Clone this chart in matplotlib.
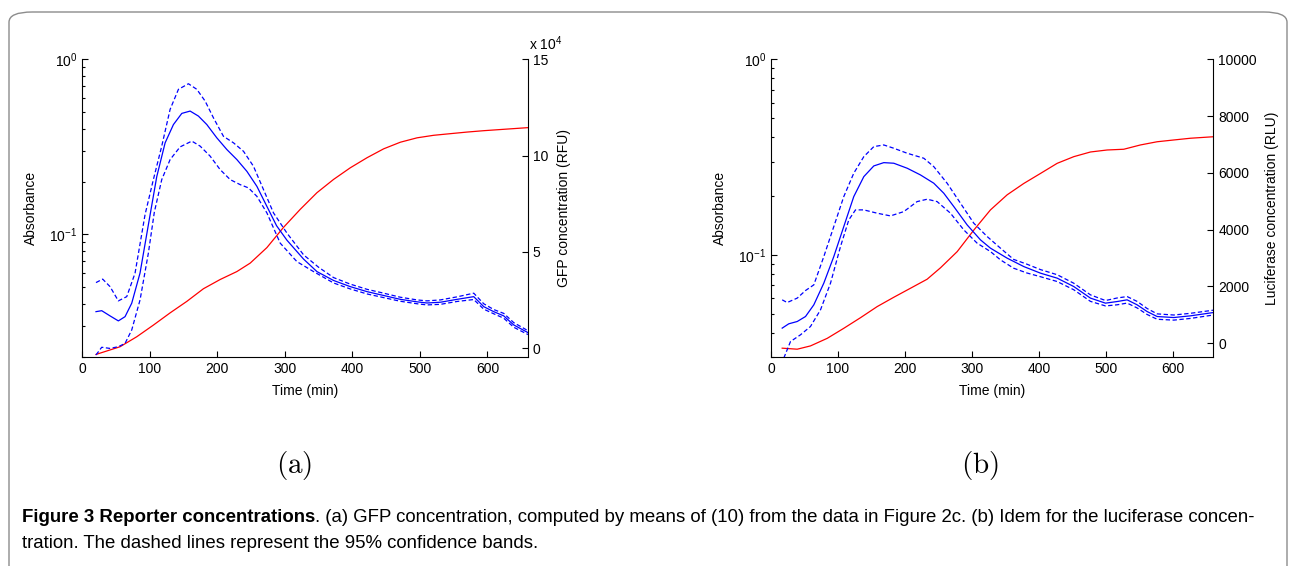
"""Figure 3: reporter concentrations (GFP and luciferase) with absorbance."""
import numpy as np
import matplotlib.pyplot as plt
from matplotlib.patches import FancyBboxPatch
from matplotlib.ticker import FixedLocator, NullFormatter

plt.rcParams["font.family"] = ["Liberation Sans", "DejaVu Sans"]
plt.rcParams["mathtext.fontset"] = "custom"
plt.rcParams["mathtext.rm"] = "Liberation Sans"
plt.rcParams["mathtext.it"] = "Liberation Sans:italic"

BLUE = "#0000ff"
RED = "#ff0000"

# ---- panel (a): absorbance (log, left) and GFP concentration x1e4 RFU (right)
a_abs_t = [20.7, 56.3, 81, 105.6, 130.4, 155.1, 179.7, 204.4, 229.2, 248.9, 273.6,
           298.2, 323, 347.7, 372.3, 397, 421.8, 446.4, 471.1, 495.9, 520.4,
           545.2, 569.9, 594.5, 619.3, 660]
a_abs = [0.0206, 0.0228, 0.0260, 0.0303, 0.0356, 0.0414, 0.0489, 0.0552, 0.0613,
         0.0685, 0.0840, 0.1096, 0.139, 0.173, 0.206, 0.240, 0.274, 0.308, 0.336,
         0.356, 0.368, 0.376, 0.384, 0.391, 0.397, 0.407]

a_gfp_t = [20.7, 29.2, 41.5, 53.8, 63.7, 73.6, 85.9, 98.2, 110.6, 123, 135.3,
           147.7, 160, 172.3, 184.7, 199.5, 214.4, 229.2, 244, 258.8, 273.6,
           288, 303.3, 327.9, 347.7, 372.3, 397, 421.8, 446.4, 471, 495.9,
           510.6, 530.4, 555.1, 579.7, 594.5, 609.3, 624.1, 638.9, 660]
a_gfp = [1.89, 1.94, 1.67, 1.41, 1.63, 2.33, 3.90, 6.40, 8.90, 10.66, 11.61,
         12.19, 12.31, 12.05, 11.61, 10.92, 10.31, 9.79, 9.18, 8.40, 7.36,
         6.35, 5.60, 4.62, 3.97, 3.51, 3.19, 2.93, 2.73, 2.53, 2.40,
         2.34, 2.38, 2.53, 2.67, 2.15, 1.89, 1.67, 1.20, 0.80]
a_gfp_hi_t = [20.7, 30.6, 41.5, 53.8, 66.2, 78.5, 93.3, 105.6, 118, 130.4, 142.7,
              157.5, 169.9, 182.2, 194.5, 209.3, 224.2, 239, 253.8, 268.6, 283.4,
              303.3, 327.9, 350, 372.3, 397, 421.8, 446.4, 471, 495.9, 510.6,
              530.4, 555.1, 579.7, 594.5, 609.3, 624.1, 638.9, 660]
a_gfp_hi = [3.40, 3.58, 3.19, 2.45, 2.67, 3.89, 6.93, 8.75, 10.49, 12.40, 13.44,
            13.73, 13.44, 12.83, 11.96, 11.00, 10.66, 10.22, 9.44, 8.23, 7.02,
            5.97, 4.84, 4.20, 3.66, 3.32, 3.05, 2.85, 2.64, 2.50, 2.45,
            2.50, 2.66, 2.85, 2.30, 2.00, 1.80, 1.32, 0.90]
a_gfp_lo_t = [20.7, 29.2, 41.5, 53.8, 63.7, 73.6, 85.9, 98.2, 107, 118, 130.4,
              145.2, 162.5, 174.8, 189.6, 204.4, 219.3, 234, 246.4, 258.8, 273.6,
              293.3, 318, 342.7, 372.3, 397, 421.8, 446.4, 471, 495.9, 510.6,
              530.4, 555.1, 579.7, 594.5, 609.3, 624.1, 638.9, 660]
a_gfp_lo = [-0.36, 0.04, -0.02, 0.07, 0.24, 0.94, 2.50, 4.93, 7.05, 8.75, 9.79,
            10.45, 10.75, 10.49, 9.97, 9.27, 8.75, 8.49, 8.32, 7.88, 7.02,
            5.45, 4.49, 3.97, 3.38, 3.07, 2.81, 2.62, 2.43, 2.30, 2.24,
            2.27, 2.42, 2.52, 2.02, 1.78, 1.55, 1.08, 0.70]

# ---- panel (b): absorbance (log, left) and luciferase concentration RLU (right)
b_abs_t = [16.7, 39.1, 58.9, 83.9, 108.6, 133.5, 158.5, 183.2, 208.1, 233, 252.9,
           277.8, 302.6, 327.5, 352.4, 377.2, 402.1, 427, 451.8, 476.7, 501.6,
           526.4, 551.3, 576.2, 601, 625.9, 660]
b_abs = [0.0334, 0.0330, 0.0343, 0.0375, 0.0422, 0.0478, 0.0545, 0.0608, 0.0676,
         0.0752, 0.0860, 0.104, 0.134, 0.170, 0.203, 0.232, 0.261, 0.294, 0.318,
         0.336, 0.344, 0.347, 0.365, 0.379, 0.387, 0.395, 0.402]

b_luc_t = [16.7, 26.5, 39.1, 51.5, 63.9, 78.8, 93.7, 108.6, 123.5, 138.5, 153.4,
           168.3, 183.2, 203.2, 223, 242.9, 257.8, 272.8, 292.7, 312.6, 327.5,
           352.4, 377.2, 402.1, 427, 451.8, 476.7, 499.1, 516.5, 531.4, 546.3,
           561.2, 576.2, 601, 625.9, 660]
b_luc = [528, 680, 761, 937, 1349, 2113, 3049, 4106, 5162, 5866, 6243,
         6359, 6338, 6162, 5926, 5634, 5282, 4810, 4165, 3637, 3345,
         2993, 2697, 2465, 2289, 1993, 1585, 1408, 1465, 1525, 1349,
         1113, 937, 901, 961, 1077]
b_luc_hi_t = [16.7, 24.1, 39.1, 51.5, 63.9, 78.8, 93.7, 108.6, 123.5, 138.5, 153.4,
              168.3, 183.2, 203.2, 228, 242.9, 262.8, 282.7, 302.6, 322.6, 342.4,
              362, 382, 402.1, 427, 451.8, 476.7, 499.1, 516.5, 531.4, 546.3,
              561.2, 576.2, 601, 625.9, 660]
b_luc_hi = [1525, 1430, 1585, 1852, 2053, 3049, 4106, 5162, 5986, 6570, 6923,
            6982, 6866, 6690, 6514, 6218, 5634, 4930, 4225, 3754, 3345,
            2950, 2780, 2590, 2410, 2110, 1700, 1500, 1590, 1640, 1470,
            1220, 1030, 990, 1050, 1160]
b_luc_lo_t = [19.1, 29.1, 44, 58.9, 73.9, 88.8, 103.7, 116.1, 126.1, 138.5, 158.5,
              178.3, 198.2, 218, 233, 247.9, 267.8, 287.7, 307.6, 327.5, 342.4,
              362, 382, 402.1, 427, 451.8, 476.7, 499.1, 516.5, 531.4, 546.3,
              561.2, 576.2, 601, 625.9, 660]
b_luc_lo = [-528, 56, 292, 585, 1173, 2113, 3401, 4342, 4694, 4694, 4577,
            4482, 4634, 4986, 5070, 4986, 4577, 3989, 3521, 3225, 2933,
            2640, 2470, 2340, 2170, 1880, 1470, 1310, 1350, 1410, 1240,
            1010, 840, 810, 870, 990]

X_TICKS = [0, 100, 200, 300, 400, 500, 600]


def style_axes(ax, ax2):
    for a in (ax, ax2):
        a.spines["top"].set_visible(False)
        a.tick_params(direction="in", labelsize=10, length=4, width=0.8)
        a.tick_params(which="minor", direction="in", length=2.5, width=0.8)
    ax.spines["right"].set_visible(False)
    ax2.spines["left"].set_visible(False)
    ax2.spines["bottom"].set_visible(False)
    ax.set_xlim(0, 660)
    ax.set_xticks(X_TICKS)
    ax.set_yscale("log")
    ax.yaxis.set_minor_locator(FixedLocator(
        [v * d for d in (0.01, 0.1) for v in range(2, 10)]))
    ax.yaxis.set_minor_formatter(NullFormatter())
    ax.set_xlabel("Time (min)", fontsize=10, labelpad=6)
    ax.set_ylabel("Absorbance", fontsize=10, labelpad=8)


fig = plt.figure(figsize=(12.92, 5.66), dpi=100)

# outer rounded frame
fig.patches.append(FancyBboxPatch((9 / 1292, -0.05), 1278 / 1292, 1.05 - 12 / 566,
                                  boxstyle="round,pad=0,rounding_size=0.018",
                                  transform=fig.transFigure, fill=False,
                                  edgecolor="#8c8c8c", linewidth=1.0))

# (a)
ax_a = fig.add_axes([82 / 1292, 1 - 356.7 / 566, 446 / 1292, 297.4 / 566])
ax_a2 = ax_a.twinx()
style_axes(ax_a, ax_a2)
ax_a.plot(a_abs_t, a_abs, color=RED, lw=0.9)
ax_a.set_ylim(0.02, 1)
ax_a.set_yticks([0.1, 1])
ax_a2.plot(a_gfp_t, a_gfp, color=BLUE, lw=0.9)
ax_a2.plot(a_gfp_hi_t, a_gfp_hi, color=BLUE, lw=0.9, ls=(0, (3.5, 2)))
ax_a2.plot(a_gfp_lo_t, a_gfp_lo, color=BLUE, lw=0.9, ls=(0, (3.5, 2)))
ax_a2.set_ylim(-0.45, 15)
ax_a2.set_yticks([0, 5, 10, 15])
ax_a2.set_ylabel("GFP concentration (RFU)", fontsize=10, labelpad=6)
ax_a2.text(1.003, 1.02, r"x $10^{4}$", transform=ax_a2.transAxes, fontsize=10,
           ha="left", va="bottom")

# (b)
ax_b = fig.add_axes([771 / 1292, 1 - 357.3 / 566, 442.3 / 1292, 298 / 566])
ax_b2 = ax_b.twinx()
style_axes(ax_b, ax_b2)
ax_b.plot(b_abs_t, b_abs, color=RED, lw=0.9)
ax_b.set_ylim(0.03, 1)
ax_b.set_yticks([0.1, 1])
ax_b2.plot(b_luc_t, b_luc, color=BLUE, lw=0.9)
ax_b2.plot(b_luc_hi_t, b_luc_hi, color=BLUE, lw=0.9, ls=(0, (3.5, 2)))
ax_b2.plot(b_luc_lo_t, b_luc_lo, color=BLUE, lw=0.9, ls=(0, (3.5, 2)))
ax_b2.set_ylim(-500, 10000)
ax_b2.set_yticks([0, 2000, 4000, 6000, 8000, 10000])
ax_b2.set_ylabel("Luciferase concentration (RLU)", fontsize=10, labelpad=6)

# sub-figure letters in a Computer Modern look
for x, letter in ((294, "a"), (980, "b")):
    fig.text(x / 1292, 1 - 465 / 566, r"$(\mathrm{%s})$" % letter, fontsize=21,
             ha="center", va="center", math_fontfamily="cm")

# caption: bold lead-in followed by regular text
cap_font = ["Liberation Sans", "DejaVu Sans"]
cap_size = 13.4
fig.canvas.draw()
lead = fig.text(22 / 1292, 1 - 517 / 566, "Figure 3 Reporter concentrations",
                fontsize=cap_size, fontweight="bold", family=cap_font, va="center")
bb = lead.get_window_extent(fig.canvas.get_renderer())
fig.text(bb.x1 / 1292, 1 - 517 / 566,
         ". (a) GFP concentration, computed by means of (10) from the data in "
         "Figure 2c. (b) Idem for the luciferase concen-",
         fontsize=cap_size, family=cap_font, va="center")
fig.text(22 / 1292, 1 - 544 / 566,
         "tration. The dashed lines represent the 95% confidence bands.",
         fontsize=cap_size, family=cap_font, va="center")

fig.savefig("out.png", dpi=100)
